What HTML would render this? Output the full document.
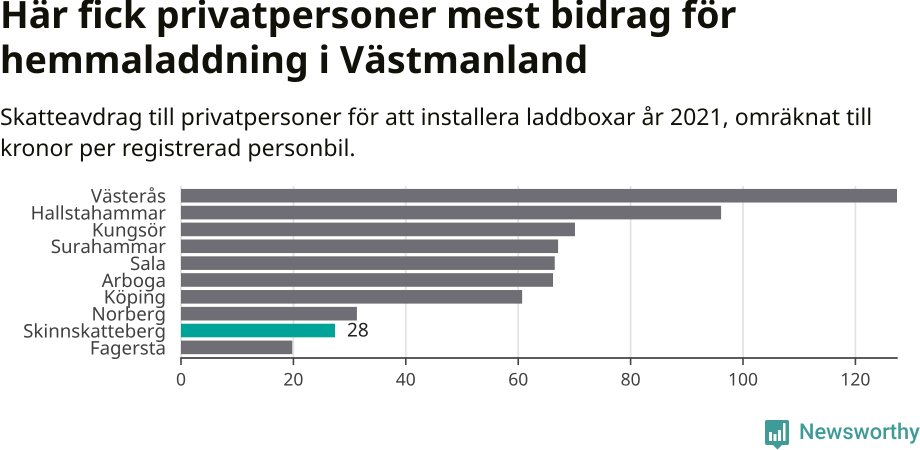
<!DOCTYPE html>
<html lang="sv">
<head>
<meta charset="utf-8">
<style>
html,body{margin:0;padding:0;background:#fff;}
body{width:920px;height:450px;overflow:hidden;position:relative;font-family:"Noto Sans","Liberation Sans","Noto Sans CJK SC",sans-serif;text-rendering:geometricPrecision;font-kerning:none;}
#chart-title{position:absolute;left:0;top:-7px;margin:0;font-size:37.6px;line-height:44.5px;font-weight:700;color:#11110a;width:920px;white-space:nowrap;}
#title-line-1{letter-spacing:-0.025px;}
#title-line-2{letter-spacing:0.08px;}
#chart-subtitle{position:absolute;left:0;top:101px;margin:0;font-size:23.05px;line-height:31px;font-weight:400;color:#11110a;width:910px;white-space:nowrap;font-kerning:normal;}
svg{position:absolute;left:0;top:0;}
text{font-family:"Noto Sans","Liberation Sans","Noto Sans CJK SC",sans-serif;text-rendering:geometricPrecision;}
</style>
</head>
<body>
<h1 id="chart-title"><span id="title-line-1">Här fick privatpersoner mest bidrag för</span><br><span id="title-line-2">hemmaladdning i Västmanland</span></h1>
<p id="chart-subtitle">Skatteavdrag till privatpersoner för att installera laddboxar år 2021, omräknat till<br>kronor per registrerad personbil.</p>
<svg id="plot" width="920" height="450" viewBox="0 0 920 450">
  <g id="grid"></g>
  <g id="bars"></g>
  <g id="ylabels"></g>
  <g id="xaxis"></g>
  <g>
    <path d="M767 420h20a2 2 0 0 1 2 2v21a2 2 0 0 1-2 2h-5l-4.500 4.500-4.500-4.500h-6a2 2 0 0 1-2-2v-21a2 2 0 0 1 2-2z" fill="#3f9b97"/>
    <rect x="769" y="432" width="3" height="9" fill="#fff"/>
    <rect x="773.500" y="434" width="3" height="7" fill="#fff"/>
    <rect x="778" y="430" width="3" height="11" fill="#fff"/>
    <rect x="783" y="423" width="2.500" height="18" fill="#fff"/>
    <text x="799" y="439" font-size="21.800" font-weight="500" fill="#3f9b97" style="font-family:'Roboto','Liberation Sans',sans-serif">Newsworthy</text>
  </g>
</svg>
<script>
const categories = ["Västerås","Hallstahammar","Kungsör","Surahammar","Sala","Arboga","Köping","Norberg","Skinnskatteberg","Fagersta"];
const values = [127.4,96.1,70.1,67.1,66.5,66.2,60.7,31.3,27.4,19.8];
const highlighted = ["Skinnskatteberg"];
const printedValues = {"Skinnskatteberg":"28"};
const xTicks = [0,20,40,60,80,100,120];
const xDomainMax = 127.4;

const NS = "http://www.w3.org/2000/svg";
const plotLeft = 181, plotRight = 897, bandTop = 187.3, bandStep = 16.85, barHeight = 13.6;
function xScale(v){ return plotLeft + v / xDomainMax * (plotRight - plotLeft); }
function yScale(i){ return bandTop + i * bandStep + (bandStep - barHeight) / 2; }
function mk(tag, attrs, parent){
  const el = document.createElementNS(NS, tag);
  for (const k in attrs) el.setAttribute(k, attrs[k]);
  parent.appendChild(el);
  return el;
}
const gridG = document.getElementById("grid");
const barsG = document.getElementById("bars");
const labelsG = document.getElementById("ylabels");
const axisG = document.getElementById("xaxis");

xTicks.forEach(function(t){
  const line = mk("line",{x1:xScale(t),x2:xScale(t),y1:186,y2:358,stroke:"#e2e2e2","stroke-width":1.7},gridG);
  
  
});
categories.forEach(function(c,i){
  const isHi = highlighted.indexOf(c) >= 0;
  const bar = mk("rect",{x:xScale(0),y:yScale(i),width:xScale(values[i])-xScale(0),height:barHeight,fill:isHi?"#00a398":"#6f6e74"},barsG);
  
  
  const lab = mk("text",{x:166,y:yScale(i)+barHeight/2+6.9,"text-anchor":"end","font-size":"18.700px",fill:"#404040"},labelsG);
  lab.textContent = c;
  
  
  if (printedValues[c]) {
    const val = mk("text",{x:xScale(values[i])+12,y:yScale(i)+barHeight/2+6,"font-size":"19px",fill:"#222",stroke:"#fff","stroke-width":3,"paint-order":"stroke"},barsG);
    val.textContent = printedValues[c];
    
    
  }
});
const domain = mk("line",{x1:plotLeft-0.7,x2:plotRight+0.7,y1:358,y2:358,stroke:"#444","stroke-width":1.7},axisG);


xTicks.forEach(function(t){
  const tick = mk("line",{x1:xScale(t),x2:xScale(t),y1:358,y2:365,stroke:"#444","stroke-width":1.6},axisG);
  
  
  const lab = mk("text",{x:xScale(t),y:385.500,"text-anchor":"middle","font-size":"17.500px",fill:"#404040"},axisG);
  lab.textContent = String(t);
  
  
});
</script>
</body>
</html>
